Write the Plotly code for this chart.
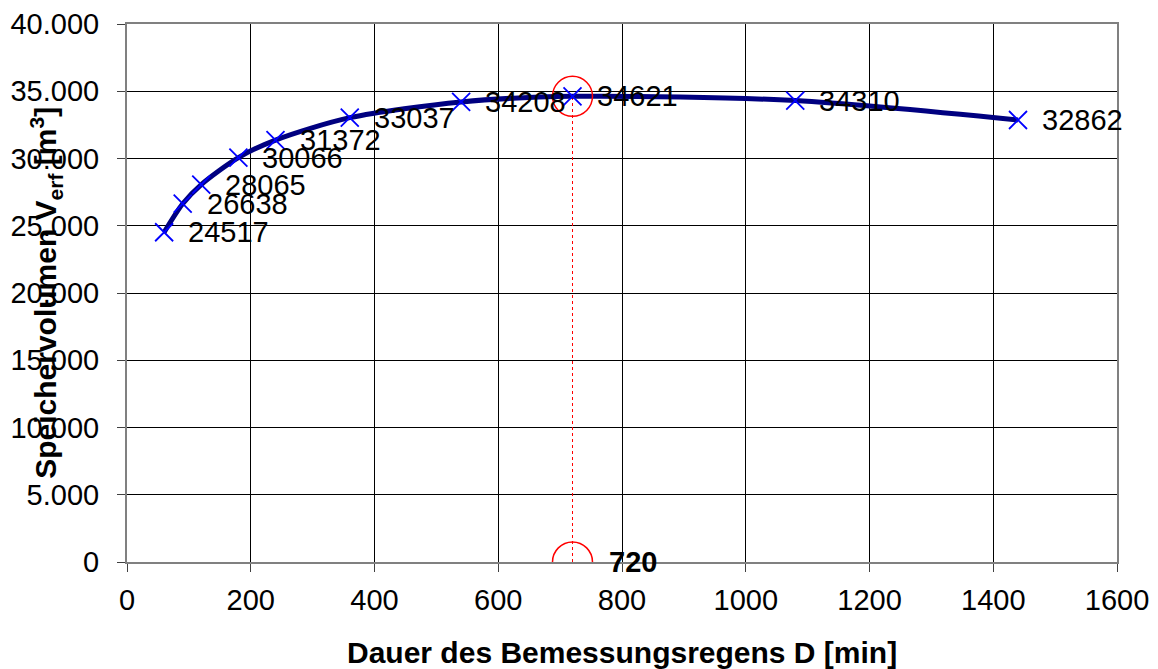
import plotly.graph_objects as go

dauer = [60, 90, 120, 180, 240, 360, 540, 720, 1080, 1440]
volumen = [24517, 26638, 28065, 30066, 31372, 33037, 34208, 34621, 34310, 32862]
x_ticks = [0, 200, 400, 600, 800, 1000, 1200, 1400, 1600]
y_ticks = [0, 5000, 10000, 15000, 20000, 25000, 30000, 35000, 40000]
y_ticktext = ["0", "5.000", "10.000", "15.000", "20.000", "25.000", "30.000", "35.000", "40.000"]
max_d = 720
max_v = 34621

font = "Arial, Liberation Sans, sans-serif"
fig = go.Figure()

fig.add_trace(go.Scatter(x=[max_d, max_d], y=[0, max_v], mode="lines",
                         line=dict(color="red", width=1, dash="dot"), hoverinfo="skip"))
fig.add_trace(go.Scatter(x=dauer, y=volumen, mode="lines", line=dict(color="#000080", width=5, shape="spline", smoothing=0.8)))
fig.add_trace(go.Scatter(x=dauer, y=volumen, mode="markers",
                         marker=dict(symbol="x-thin", size=18, line=dict(color="#0000ff", width=1.8), color="#0000ff")))
fig.add_trace(go.Scatter(x=[max_d, max_d], y=[max_v, 0], mode="markers",
                         marker=dict(symbol="circle-open", size=40, color="red", line=dict(color="red", width=1.5))))

for d, v in zip(dauer, volumen):
    fig.add_annotation(x=d, y=v, text=str(v), showarrow=False, xanchor="left", yanchor="middle",
                       xshift=22, yshift=0, font=dict(size=29, color="black", family=font))
fig.add_annotation(x=max_d, y=0, text="<b>720</b>", showarrow=False, xanchor="left", yanchor="middle",
                   xshift=34, yshift=0, font=dict(size=29, color="black", family=font))

fig.add_annotation(xref="paper", yref="paper", x=-0.082, y=0.5, textangle=-90,
                   text="<b>Speichervolumen V<sub>erf</sub> [m<sup>3</sup>]</b>", showarrow=False,
                   xanchor="center", yanchor="middle", font=dict(size=30, color="black", family=font))
fig.add_annotation(xref="paper", yref="paper", x=0.5, y=0, yshift=-90,
                   text="<b>Dauer des Bemessungsregens D [min]</b>", showarrow=False,
                   xanchor="center", yanchor="middle", font=dict(size=30, color="black", family=font))

fig.update_layout(
    width=1158, height=669,
    margin=dict(l=127, r=41, t=24, b=107),
    paper_bgcolor="white", plot_bgcolor="white",
    showlegend=False,
    font=dict(family=font, size=29, color="black"),
    xaxis=dict(range=[0, 1600], tickvals=x_ticks, showgrid=True, gridcolor="black", gridwidth=1,
               showline=True, linecolor="#808080", linewidth=2, mirror=True, automargin=False,
               ticks="outside", ticklen=8, tickcolor="#404040", zeroline=False,
               tickfont=dict(size=29, family=font), ticklabelstandoff=3),
    yaxis=dict(range=[0, 40000], tickvals=y_ticks, ticktext=y_ticktext, showgrid=True, gridcolor="black", gridwidth=1,
               showline=True, linecolor="#808080", linewidth=2, mirror=True, automargin=False,
               ticks="outside", ticklen=8, tickcolor="#404040", zeroline=False,
               tickfont=dict(size=29, family=font), ticklabelstandoff=12),
)

fig.write_html("out.html")
